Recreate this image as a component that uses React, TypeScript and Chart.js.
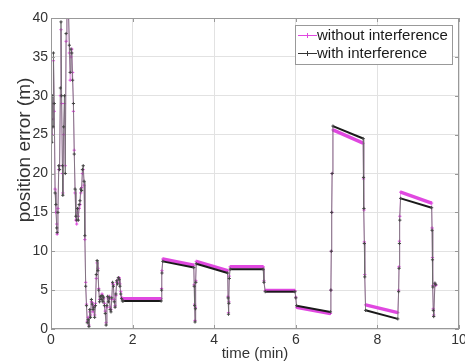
import React, { useEffect, useRef } from "react";
import { Chart, registerables } from "chart.js";

Chart.register(...registerables);

const FONT = '"Liberation Sans", Arial, Helvetica, sans-serif';

const X_TITLE = "time (min)";
const Y_TITLE = "position error (m)";
const SERIES_LABELS = ["without interference", "with interference"];
const X_TICKS = [0, 2, 4, 6, 8, 10];
const Y_TICKS = [0, 5, 10, 15, 20, 25, 30, 35, 40];

// time (min)
const timeMin = [
  0.0, 0.02, 0.03, 0.05, 0.06, 0.08, 0.1, 0.12, 0.14, 0.15,
  0.17, 0.19, 0.21, 0.23, 0.245, 0.26, 0.28, 0.29, 0.31, 0.33,
  0.35, 0.37, 0.39, 0.41, 0.43, 0.45, 0.47, 0.49, 0.51, 0.53,
  0.55, 0.57, 0.59, 0.61, 0.63, 0.65, 0.67, 0.69, 0.71, 0.73,
  0.75, 0.77, 0.79, 0.81, 0.83, 0.85, 0.87, 0.89, 0.91, 0.93,
  0.95, 0.97, 0.99, 1.01, 1.03, 1.05, 1.07, 1.09, 1.11, 1.13,
  1.15, 1.17, 1.19, 1.21, 1.23, 1.25, 1.27, 1.29, 1.31, 1.33,
  1.35, 1.37, 1.39, 1.41, 1.43, 1.45, 1.47, 1.49, 1.51, 1.53,
  1.55, 1.57, 1.59, 1.61, 1.63, 1.65, 1.67, 1.69, 1.71, 1.73,
  1.75, 1.77, 2.7, 2.71, 2.72, 2.74, 3.5, 3.51, 3.52, 3.53,
  3.54, 3.55, 3.56, 4.33, 4.34, 4.35, 4.36, 4.37, 4.39, 5.2,
  5.22, 5.25, 5.98, 6.0, 6.02, 6.85, 6.86, 6.87, 6.88, 6.89,
  6.91, 7.65, 7.66, 7.67, 7.68, 7.69, 7.71, 8.5, 8.52, 8.53,
  8.54, 8.55, 8.57, 9.33, 9.34, 9.35, 9.36, 9.37, 9.38, 9.41,
  9.43,
];

// position error (m), with interference
const withInterference = [
  27, 24, 30, 26, 35.5, 29, 17.5, 16, 13, 12.4,
  15, 21, 20.5, 31, 39.5, 30, 21, 17.2, 26, 30,
  20, 38, 43, 45, 41, 36.5, 33, 36, 35.5, 32,
  29, 22.5, 18, 14.5, 14, 15.5, 14, 16, 16.5, 18,
  17.8, 20.5, 21, 19, 12, 5.5, 3, 0.8, 1.2, 0.3,
  2.5, 1.5, 3.8, 3.2, 2.5, 2.8, 1.5, 3, 7, 8.8,
  7.5, 5, 3.5, 4.2, 3.8, 4.3, 3.5, 4.1, 3, 2,
  0.5, 3, 4.2, 3.5, 4, 2.5, 2.2, 4, 6, 5.5,
  3.5, 2.8, 4.5, 6.2, 5.8, 6.6, 6.4, 5.5, 4.5, 3.9,
  3.6, 3.6, 3.6, 5.0, 7.2, 8.7, 7.9, 5.5, 3.0, 0.9,
  2.6, 6.0, 8.4, 7.2, 4.0, 1.9, 3.3, 6.5, 7.7, 7.7,
  6.0, 4.8, 4.8, 4.0, 3.0, 2.2, 5.0, 10.0, 15.0, 20.0,
  26.1, 24.5, 19.5, 15.5, 11.0, 6.7, 2.4, 1.3, 4.8, 7.8,
  11.0, 14.0, 16.8, 15.6, 12.7, 8.9, 5.4, 2.4, 1.6, 5.9,
  5.7,
];

// position error (m), without interference
const withoutInterference = [
  26, 25, 29, 27, 34.5, 28, 18, 15, 13.5, 12.2,
  15.5, 20.5, 21, 30, 38.5, 29, 20, 17.5, 25, 29,
  21, 37, 42, 44, 40, 35.5, 32, 35, 36, 33,
  28, 23, 17.5, 14, 13.5, 15, 14.5, 15.5, 16, 17.5,
  18.2, 20, 20.5, 18.5, 11.5, 6, 3.2, 1, 1.5, 0.5,
  2.2, 1.8, 3.5, 3.4, 2.2, 3, 1.8, 3.3, 6.5, 8.5,
  7.8, 5.2, 3.8, 4, 4, 4.5, 3.8, 3.9, 3.3, 2.3,
  0.8, 2.8, 4, 3.8, 4.2, 2.8, 2.5, 3.8, 5.8, 5.7,
  3.8, 3, 4.3, 6, 6, 6.4, 6.6, 5.8, 4.8, 4.1,
  3.9, 3.9, 3.9, 5.2, 7.5, 9.0, 8.2, 5.7, 3.2, 1.1,
  2.8, 6.2, 8.7, 7.5, 4.2, 2.1, 3.5, 6.8, 8.0, 8.0,
  6.2, 4.95, 4.95, 4.1, 2.8, 2.0, 5.0, 10.0, 15.0, 20.0,
  25.6, 23.9, 19.3, 15.3, 11.2, 7.0, 3.1, 2.1, 5.0, 8.0,
  11.3, 14.5, 17.6, 16.2, 13.0, 9.2, 5.6, 2.6, 1.8, 5.8,
  5.6,
];

const PINK = "#e048e0";
const PINK_THIN = "rgba(220,140,220,0.85)";
const DARK = "#1a1a1a";
const DARK_THIN = "rgba(105,105,105,0.8)";

function isFlat(ctx: any): boolean {
  const dx = ctx.p1.x - ctx.p0.x;
  const dy = Math.abs(ctx.p1.y - ctx.p0.y);
  return dx > 4 && dy / dx < 0.5;
}

const framePlugin = {
  id: "framePlugin",
  afterDraw(chart: any) {
    const { ctx, chartArea } = chart;
    const { left, right, top, bottom } = chartArea;
    const xs = chart.scales.x;
    const ys = chart.scales.y;
    ctx.save();
    ctx.strokeStyle = "#999999";
    ctx.lineWidth = 1;
    ctx.strokeRect(left + 0.5, top + 0.5, right - left - 1, bottom - top - 1);
    ctx.beginPath();
    X_TICKS.forEach((v) => {
      const px = Math.round(xs.getPixelForValue(v)) + 0.5;
      ctx.moveTo(px, bottom);
      ctx.lineTo(px, bottom - 4);
      ctx.moveTo(px, top);
      ctx.lineTo(px, top + 4);
    });
    Y_TICKS.forEach((v) => {
      const py = Math.round(ys.getPixelForValue(v)) + 0.5;
      ctx.moveTo(left, py);
      ctx.lineTo(left + 4, py);
      ctx.moveTo(right, py);
      ctx.lineTo(right - 4, py);
    });
    ctx.stroke();

    // y-axis title
    ctx.save();
    ctx.translate(25, 150);
    ctx.rotate(-Math.PI / 2);
    ctx.font = `19px ${FONT}`;
    ctx.fillStyle = "#333";
    ctx.textAlign = "center";
    ctx.textBaseline = "middle";
    ctx.fillText(Y_TITLE, 0, 0);
    ctx.restore();

    // legend box
    const bx = 295, by = 25, bw = 157, bh = 39;
    ctx.fillStyle = "#ffffff";
    ctx.fillRect(bx, by, bw, bh);
    ctx.strokeStyle = "#999999";
    ctx.strokeRect(bx + 0.5, by + 0.5, bw, bh);
    const rows = [
      { label: chart.data.datasets[0].label, color: PINK, y: 35 },
      { label: chart.data.datasets[1].label, color: "#333", y: 53 },
    ];
    rows.forEach((r) => {
      ctx.strokeStyle = r.color;
      ctx.lineWidth = 1;
      ctx.beginPath();
      ctx.moveTo(298, r.y + 0.5);
      ctx.lineTo(317, r.y + 0.5);
      ctx.moveTo(307.5, r.y - 2);
      ctx.lineTo(307.5, r.y + 3);
      ctx.stroke();
      ctx.font = `15px ${FONT}`;
      ctx.fillStyle = "#1a1a1a";
      ctx.textAlign = "left";
      ctx.textBaseline = "middle";
      ctx.fillText(r.label, 317, r.y + 1);
    });
    ctx.restore();
  },
};

export default function App() {
  const ref = useRef<HTMLCanvasElement | null>(null);

  useEffect(() => {
    if (!ref.current) return;
    const mk = (vals: number[]) => timeMin.map((t, i) => ({ x: t, y: vals[i] }));
    const chart = new Chart(ref.current, {
      type: "line",
      data: {
        datasets: [
          {
            label: SERIES_LABELS[0],
            data: mk(withoutInterference),
            borderColor: PINK_THIN,
            borderWidth: 1,
            pointStyle: "cross",
            pointRadius: 1.6,
            pointBorderWidth: 1,
            pointBorderColor: PINK,
            pointBackgroundColor: PINK,
            order: 1,
            segment: {
              borderWidth: (c: any) => (isFlat(c) ? 3.5 : 1),
              borderColor: (c: any) => (isFlat(c) ? PINK : PINK_THIN),
            },
          },
          {
            label: SERIES_LABELS[1],
            data: mk(withInterference),
            borderColor: DARK_THIN,
            borderWidth: 1,
            pointStyle: "cross",
            pointRadius: 1.6,
            pointBorderWidth: 1,
            pointBorderColor: "#444",
            pointBackgroundColor: "#444",
            order: 0,
            segment: {
              borderWidth: (c: any) => (isFlat(c) ? 2 : 1),
              borderColor: (c: any) => (isFlat(c) ? DARK : DARK_THIN),
            },
          },
        ],
      },
      options: {
        responsive: false,
        animation: false,
        devicePixelRatio: 1,
        layout: { padding: { top: 18, right: 6, left: 0, bottom: 0 } },
        plugins: {
          legend: { display: false },
          tooltip: { enabled: false },
        },
        scales: {
          x: {
            type: "linear",
            min: 0,
            max: 10,
            afterBuildTicks: (s: any) => {
              s.ticks = X_TICKS.map((v) => ({ value: v }));
            },
            ticks: {
              font: { family: FONT, size: 14 },
              color: "#333",
              padding: 3,
              maxRotation: 0,
            },
            grid: { color: "#e2e2e2", drawTicks: false, tickLength: 0 },
            border: { display: false },
            title: {
              display: true,
              text: X_TITLE,
              font: { family: FONT, size: 15, lineHeight: 1 },
              color: "#333",
              padding: { top: 0, bottom: 0 },
            },
            afterFit: (s: any) => {
              s.height = 32;
              s.paddingLeft = 0;
              s.paddingRight = 0;
            },
          },
          y: {
            type: "linear",
            min: 0,
            max: 40,
            afterBuildTicks: (s: any) => {
              s.ticks = Y_TICKS.map((v) => ({ value: v }));
            },
            ticks: {
              font: { family: FONT, size: 14 },
              color: "#333",
              padding: 3,
            },
            grid: { color: "#e2e2e2", drawTicks: false, tickLength: 0 },
            border: { display: false },
            afterFit: (s: any) => {
              s.width = 51;
              s.paddingTop = 0;
              s.paddingBottom = 0;
            },
          },
        },
      },
      plugins: [framePlugin],
    });
    return () => chart.destroy();
  }, []);

  return (
    <div style={{ position: "absolute", left: 0, top: 0, width: 465, height: 361, background: "#fff" }}>
      <canvas ref={ref} width={465} height={361} style={{ width: 465, height: 361, display: "block" }} />
    </div>
  );
}
